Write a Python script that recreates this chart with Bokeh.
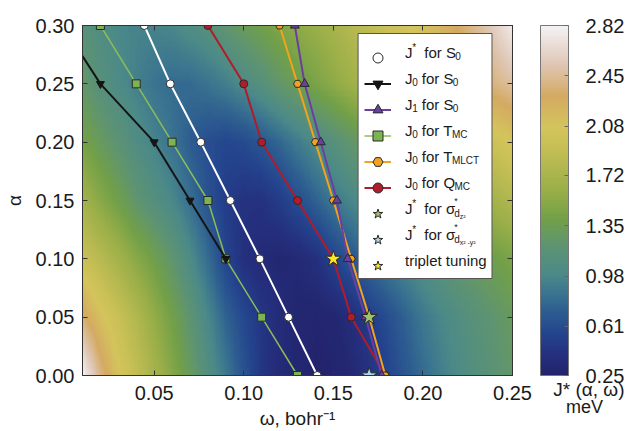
import numpy as np
from bokeh.plotting import figure
from bokeh.layouts import row
from bokeh.models import (ColorBar, LinearColorMapper, FixedTicker, PrintfTickFormatter,
                          Legend, LegendItem, LinearAxis, Range1d, ColumnDataSource)
from bokeh.core.properties import value
from bokeh.embed import file_html
from bokeh.resources import INLINE

# ---------------- data ----------------
omega_grid = [0.01, 0.02, 0.03, 0.04, 0.05, 0.06, 0.07, 0.08, 0.09, 0.10, 0.11, 0.12, 0.13,
              0.14, 0.15, 0.16, 0.17, 0.18, 0.19, 0.20, 0.21, 0.22, 0.23, 0.24, 0.25]
alpha_grid = [0.00, 0.05, 0.10, 0.15, 0.20, 0.25, 0.30]
# J*(alpha, omega) in meV, one row per alpha value
J_star_a000 = [2.82, 2.40, 2.10, 1.90, 1.70, 1.50, 1.30, 1.08, 0.88, 0.65, 0.45, 0.35, 0.30,
               0.25, 0.27, 0.32, 0.42, 0.55, 0.68, 0.80, 0.92, 1.02, 1.10, 1.18, 1.25]
J_star_a005 = [2.35, 2.12, 1.95, 1.78, 1.58, 1.40, 1.20, 0.98, 0.75, 0.58, 0.45, 0.35, 0.30,
               0.28, 0.30, 0.38, 0.50, 0.62, 0.75, 0.88, 0.98, 1.07, 1.15, 1.22, 1.30]
J_star_a010 = [1.95, 1.82, 1.68, 1.52, 1.38, 1.22, 1.02, 0.80, 0.55, 0.40, 0.34, 0.31, 0.33,
               0.40, 0.55, 0.68, 0.80, 0.90, 0.99, 1.08, 1.17, 1.25, 1.32, 1.38, 1.45]
J_star_a015 = [1.68, 1.52, 1.38, 1.22, 1.10, 0.98, 0.82, 0.65, 0.50, 0.42, 0.42, 0.50, 0.62,
               0.75, 0.88, 0.98, 1.08, 1.18, 1.28, 1.38, 1.47, 1.55, 1.62, 1.70, 1.78]
J_star_a020 = [1.42, 1.30, 1.18, 1.05, 0.95, 0.85, 0.72, 0.62, 0.57, 0.60, 0.68, 0.78, 0.90,
               1.02, 1.13, 1.24, 1.35, 1.45, 1.55, 1.65, 1.75, 1.83, 1.92, 2.00, 2.08]
J_star_a025 = [1.25, 1.12, 1.02, 0.93, 0.85, 0.80, 0.80, 0.85, 0.92, 1.02, 1.12, 1.25, 1.35,
               1.45, 1.55, 1.65, 1.75, 1.85, 1.95, 2.05, 2.15, 2.23, 2.32, 2.40, 2.48]
J_star_a030 = [1.15, 1.05, 0.98, 0.95, 0.95, 0.98, 1.05, 1.12, 1.22, 1.32, 1.40, 1.48, 1.55,
               1.62, 1.70, 1.80, 1.88, 1.97, 2.05, 2.12, 2.22, 2.32, 2.45, 2.60, 2.78]

alpha = [0.00, 0.05, 0.10, 0.15, 0.20, 0.25, 0.30]
omega_Jstar_S0 = [0.141, 0.125, 0.109, 0.0925, 0.076, 0.059, 0.0445]
omega_J1_S0 = [0.177, 0.168, 0.158, 0.152, 0.143, 0.134, 0.1285]
omega_J0_TMC = [0.13, 0.11, 0.09, 0.08, 0.06, 0.04, 0.02]
omega_J0_TMLCT = [0.179, 0.17, 0.16, 0.15, 0.14, 0.13, 0.12]
omega_J0_QMC = [0.179, 0.16, 0.15, 0.13, 0.11, 0.10, 0.08]
alpha_J0_S0 = [0.10, 0.15, 0.20, 0.25, 0.30]
omega_J0_S0 = [0.09, 0.07, 0.05, 0.02, -0.001]

star_dz2_omega, star_dz2_alpha = [0.17], [0.05]
star_dx2y2_omega, star_dx2y2_alpha = [0.17], [0.00]
star_triplet_omega, star_triplet_alpha = [0.15], [0.10]

x_ticks = [0.05, 0.10, 0.15, 0.20, 0.25]
y_ticks = [0.00, 0.05, 0.10, 0.15, 0.20, 0.25, 0.30]
cbar_ticks = [0.25, 0.61, 0.98, 1.35, 1.72, 2.08, 2.45, 2.82]
cbar_title = "J* (α, ω)"
cbar_unit = "meV"

# ---------------- palette ----------------
anchors = [(0.000, "#23236c"), (0.058, "#24307e"), (0.117, "#24448e"), (0.175, "#2c5a90"),
           (0.233, "#3a7490"), (0.290, "#4c8a88"), (0.370, "#5e9472"), (0.447, "#72a048"),
           (0.525, "#98ae48"), (0.600, "#b4b850"), (0.660, "#c8c056"), (0.712, "#d4c45c"),
           (0.800, "#d4aa62"), (0.895, "#e0c8b8"), (1.000, "#f4f2f4")]
def hex2rgb(h):
    return [int(h[i:i + 2], 16) for i in (1, 3, 5)]
af = [a[0] for a in anchors]
ac = np.array([hex2rgb(a[1]) for a in anchors], dtype=float)
palette = []
for t in np.linspace(0, 1, 256):
    rgb = [int(round(np.interp(t, af, ac[:, k]))) for k in range(3)]
    palette.append("#%02x%02x%02x" % tuple(rgb))

FONT = "Liberation Sans"
TXT = "#1a1a1a"
low, high = cbar_ticks[0], cbar_ticks[-1]
mapper = LinearColorMapper(palette=palette, low=low, high=high)

X0, X1, Y0, Y1 = 0.01, 0.25, 0.0, 0.30
FW, FH = 440, 350          # frame size in px
H, BT, BB = 431, 25, 56
p = figure(width=72 + FW + 26, height=H, output_backend="svg", toolbar_location=None,
           x_range=Range1d(X0, X1), y_range=Range1d(Y0, Y1),
           min_border_left=72, min_border_right=26, min_border_top=BT, min_border_bottom=BB)
p.grid.visible = False
p.outline_line_color = "#333333"
p.background_fill_color = "white"

# colour map: the read grid, resampled smoothly for display
grid = np.array([J_star_a000, J_star_a005, J_star_a010, J_star_a015,
                 J_star_a020, J_star_a025, J_star_a030])
w_fine = np.linspace(omega_grid[0], omega_grid[-1], 241)
a_fine = np.linspace(alpha_grid[0], alpha_grid[-1], 151)
tmp = np.array([np.interp(w_fine, omega_grid, r) for r in grid])
fine = np.array([np.interp(a_fine, alpha_grid, tmp[:, j]) for j in range(len(w_fine))]).T
dwf = w_fine[1] - w_fine[0]
dhf = a_fine[1] - a_fine[0]
p.image(image=[fine], x=w_fine[0] - dwf / 2, y=a_fine[0] - dhf / 2,
        dw=dwf * len(w_fine), dh=dhf * len(a_fine), color_mapper=mapper)

OUT = "#2a2a2a"
l_tmc = p.line(omega_J0_TMC, alpha, line_color="#8cbc5a", line_width=1.5)
m_tmc = p.scatter(omega_J0_TMC, alpha, marker="square", size=8, fill_color="#7cb454", line_color=OUT)
l_s0 = p.line(omega_J0_S0, alpha_J0_S0, line_color="#151515", line_width=2)
m_s0 = p.scatter(omega_J0_S0, alpha_J0_S0, marker="inverted_triangle", size=8, fill_color="#151515", line_color="#151515")
l_js = p.line(omega_Jstar_S0, alpha, line_color="white", line_width=2)
m_js = p.scatter(omega_Jstar_S0, alpha, marker="circle", size=8, fill_color="white", line_color=OUT)
l_q = p.line(omega_J0_QMC, alpha, line_color="#b01c2c", line_width=2)
m_q = p.scatter(omega_J0_QMC, alpha, marker="circle", size=8, fill_color="#b01c2c", line_color=OUT)
l_ml = p.line(omega_J0_TMLCT, alpha, line_color="#f2a21e", line_width=2)
m_ml = p.scatter(omega_J0_TMLCT, alpha, marker="hex", size=8, fill_color="#f2a21e", line_color=OUT)
l_j1 = p.line(omega_J1_S0, alpha, line_color="#6b3fa0", line_width=2)
m_j1 = p.scatter(omega_J1_S0, alpha, marker="triangle", size=9, fill_color="#6b3fa0", line_color=OUT)
s_dz = p.scatter(star_dz2_omega, star_dz2_alpha, marker="star", size=17, fill_color="#a3c466", line_color=OUT)
s_dx = p.scatter(star_dx2y2_omega, star_dx2y2_alpha, marker="star", size=17, fill_color="#a8d8ea", line_color=OUT)
s_tr = p.scatter(star_triplet_omega, star_triplet_alpha, marker="star", size=17, fill_color="#f8e81c", line_color=OUT)

# axes
for ax in (p.xaxis[0], p.yaxis[0]):
    ax.major_tick_in = 5
    ax.major_tick_out = 0
    ax.minor_tick_line_color = None
    ax.major_tick_line_color = "#333333"
    ax.axis_line_color = "#333333"
    ax.major_label_text_font = FONT
    ax.major_label_text_font_size = "20px"
    ax.major_label_text_color = TXT
    ax.axis_label_text_font = FONT
    ax.axis_label_text_font_size = "19px"
    ax.axis_label_text_font_style = "normal"
    ax.axis_label_text_color = TXT
    ax.formatter = PrintfTickFormatter(format="%.2f")
p.xaxis[0].ticker = FixedTicker(ticks=x_ticks)
p.yaxis[0].ticker = FixedTicker(ticks=y_ticks)
p.xaxis[0].axis_label = "ω, bohr⁻¹"
p.yaxis[0].axis_label = "α"
p.xaxis[0].major_label_standoff = 10
p.yaxis[0].major_label_standoff = 8
p.xaxis[0].axis_label_standoff = 5
p.yaxis[0].axis_label_standoff = 8

for loc, tk in (("above", x_ticks), ("right", y_ticks)):
    ax = LinearAxis(ticker=FixedTicker(ticks=tk), major_label_overrides={t: "" for t in tk},
                    major_tick_in=5, major_tick_out=0, minor_tick_line_color=None,
                    major_tick_line_color="#333333", axis_line_color="#333333",
                    major_label_standoff=0)
    p.add_layout(ax, loc)

# ---------------- legend ----------------
def sx2w(px):
    return X0 + px * (X1 - X0) / FW
def sy2a(py):
    return Y0 + py * (Y1 - Y0) / FH

n_items = 9
LEG_L, LEG_B = 282, 97
PAD, GH, SP, GW = 6, 25, 1, 27
LEG_W = 137
LEG_H = 2 * PAD + n_items * GH + (n_items - 1) * SP
p.quad(left=[sx2w(LEG_L)], right=[sx2w(LEG_L + LEG_W)], bottom=[sy2a(LEG_B)],
       top=[sy2a(LEG_B + LEG_H)], fill_color="white", line_color="#555555", line_width=1)

AW = {' ': 278, 'J': 500, '*': 389, 'f': 278, 'o': 556, 'r': 333, 'S': 667, 'T': 611,
      'M': 833, 'C': 722, 'L': 556, 'Q': 778, 'σ': 600, 't': 278, 'i': 222, 'p': 556,
      'l': 222, 'e': 556, 'u': 556, 'n': 556, 'g': 556, 'd': 556, 'z': 500, 'x': 500,
      'y': 500, '-': 333, '²': 333}
def tw(s, size):
    return sum(AW.get(c, 556) for c in s) * size / 1000.0

# (text, font px, vertical shift px, advances?)  leading spaces only move the pen
legend_texts = [
    [("J", 15, 0, 1), ("*", 10, 5, 1), ("  for S", 15, 0, 1), ("0", 10, -4, 1)],
    [("J", 15, 0, 1), ("0", 10, -4, 1), (" for S", 15, 0, 1), ("0", 10, -4, 1)],
    [("J", 15, 0, 1), ("1", 10, -4, 1), (" for S", 15, 0, 1), ("0", 10, -4, 1)],
    [("J", 15, 0, 1), ("0", 10, -4, 1), (" for T", 15, 0, 1), ("MC", 10, -4, 1)],
    [("J", 15, 0, 1), ("0", 10, -4, 1), (" for T", 15, 0, 1), ("MLCT", 10, -4, 1)],
    [("J", 15, 0, 1), ("0", 10, -4, 1), (" for Q", 15, 0, 1), ("MC", 10, -4, 1)],
    [("J", 15, 0, 1), ("*", 10, 5, 1), ("  for σ", 15, 0, 1), ("*", 9, 7, 0), ("d", 10, -5, 1), ("z²", 7, -8, 1)],
    [("J", 15, 0, 1), ("*", 10, 5, 1), ("  for σ", 15, 0, 1), ("*", 9, 7, 0), ("d", 10, -5, 1), ("x² -y²", 7, -8, 1)],
    [("triplet tuning", 15, 0, 1)],
]
tx, ty, tt, ts = [], [], [], []
text_x0 = 330
leg_top = LEG_B + LEG_H
for i, rw in enumerate(legend_texts):
    yc = leg_top - PAD - GH / 2 - i * (GH + SP)
    x = text_x0
    for (t, sz, dy, adv) in rw:
        core = t.lstrip(" ")
        x += tw(t[:len(t) - len(core)], sz)
        tx.append(sx2w(x)); ty.append(sy2a(yc + dy)); tt.append(core); ts.append(f"{sz}px")
        if adv:
            x += tw(core, sz)
p.text(x="x", y="y", text="t", text_font_size="s",
       source=ColumnDataSource(dict(x=tx, y=ty, t=tt, s=ts)),
       text_font=value(FONT), text_baseline="middle", text_color=TXT)

legend_items = [
    LegendItem(label=value(" "), renderers=[l_js, m_js]),
    LegendItem(label=value(" "), renderers=[l_s0, m_s0]),
    LegendItem(label=value(" "), renderers=[l_j1, m_j1]),
    LegendItem(label=value(" "), renderers=[l_tmc, m_tmc]),
    LegendItem(label=value(" "), renderers=[l_ml, m_ml]),
    LegendItem(label=value(" "), renderers=[l_q, m_q]),
    LegendItem(label=value(" "), renderers=[s_dz]),
    LegendItem(label=value(" "), renderers=[s_dx]),
    LegendItem(label=value(" "), renderers=[s_tr]),
]
legend = Legend(items=legend_items, location=(LEG_L, LEG_B), orientation="vertical",
                padding=PAD, spacing=SP, glyph_height=GH, glyph_width=GW,
                label_height=GH, label_width=LEG_W - 2 * PAD - GW - 5, label_standoff=5, margin=0,
                border_line_color=None, background_fill_alpha=0.0,
                label_text_font_size="6px")
p.add_layout(legend)

# ---------------- colour bar (own panel to the right) ----------------
CBW = 88
c = figure(width=2 + CBW, height=H, output_backend="svg", toolbar_location=None,
           x_range=Range1d(0, 1), y_range=Range1d(0, 1),
           min_border_left=2, min_border_right=0, min_border_top=BT, min_border_bottom=BB)
c.grid.visible = False
c.outline_line_color = None
c.yaxis.visible = False
c.xaxis.visible = False
cb = ColorBar(color_mapper=mapper, ticker=FixedTicker(ticks=cbar_ticks),
              formatter=PrintfTickFormatter(format="%.2f"), width=28, height=FH,
              location=(0, 0), padding=0, margin=0, label_standoff=17,
              major_label_text_font=FONT, major_label_text_font_size="20px",
              major_label_text_color=TXT,
              major_tick_in=4, major_tick_out=0, major_tick_line_color="#666666",
              minor_tick_line_color=None, bar_line_color="#777777",
              background_fill_alpha=0, border_line_color=None)
c.add_layout(cb)
TPOS = 0.55
tax = LinearAxis(ticker=FixedTicker(ticks=[TPOS]), major_label_overrides={TPOS: cbar_title},
                 axis_label=cbar_unit, major_tick_line_color=None, minor_tick_line_color=None,
                 axis_line_color=None, major_label_standoff=-3, axis_label_standoff=-6,
                 major_label_text_font=FONT, major_label_text_font_size="19px",
                 major_label_text_color=TXT, axis_label_text_font=FONT,
                 axis_label_text_font_size="18px", axis_label_text_font_style="normal",
                 axis_label_text_color=TXT)
c.add_layout(tax, "below")

open("out.html", "w").write(file_html(row(p, c), INLINE))
